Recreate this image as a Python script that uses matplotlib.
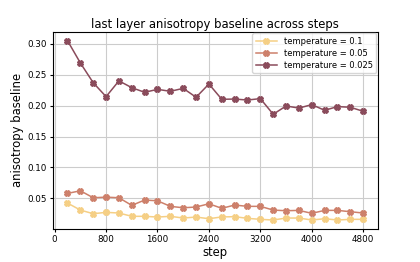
import matplotlib
matplotlib.use("Agg")
import matplotlib.pyplot as plt
from matplotlib.ticker import MultipleLocator

steps = list(range(200, 4801, 200))
temp_01 = [0.0424, 0.0311, 0.0252, 0.0274, 0.0263, 0.0210, 0.0210, 0.0198, 0.0210, 0.0182,
           0.0198, 0.0171, 0.0200, 0.0204, 0.0177, 0.0161, 0.0150, 0.0182, 0.0182, 0.0150,
           0.0171, 0.0150, 0.0161, 0.0161]
temp_005 = [0.0580, 0.0623, 0.0510, 0.0520, 0.0510, 0.0387, 0.0473, 0.0461, 0.0371, 0.0348,
            0.0360, 0.0413, 0.0339, 0.0392, 0.0371, 0.0371, 0.0311, 0.0300, 0.0306, 0.0258,
            0.0306, 0.0306, 0.0284, 0.0263]
temp_0025 = [0.305, 0.269, 0.237, 0.2145, 0.240, 0.229, 0.2215, 0.2263, 0.2231, 0.2279,
             0.2135, 0.2349, 0.2102, 0.2106, 0.209, 0.2113, 0.186, 0.1994, 0.196, 0.2016,
             0.1924, 0.1984, 0.1973, 0.1908]
labels = ["temperature = 0.1", "temperature = 0.05", "temperature = 0.025"]
colors = ["#f5cf85", "#cd806b", "#8a4b5b"]

fig = plt.figure(figsize=(4.2, 2.62), dpi=100)
ax = fig.add_axes([0.1255, 0.126, 0.7745, 0.753])
for ys, lab, c in zip([temp_01, temp_005, temp_0025], labels, colors):
    ax.plot(steps, ys, marker="X", markersize=3.8, linewidth=1.1, color=c, label=lab)

ax.xaxis.set_major_locator(MultipleLocator(800))
ax.grid(True, color="#cccccc", linewidth=0.8)
ax.set_axisbelow(True)
ax.tick_params(labelsize=6.3, length=2.5, pad=2)
ax.set_xlabel("step", fontsize=8.4, labelpad=1)
ax.set_ylabel("anisotropy baseline", fontsize=8.4, labelpad=2)
ax.set_title("last layer anisotropy baseline across steps", fontsize=8.4, pad=3)
ax.legend(loc="upper right", fontsize=6, handlelength=2.6, borderpad=0.4,
          labelspacing=0.35, borderaxespad=0.2)
fig.savefig("out.png", dpi=100)
